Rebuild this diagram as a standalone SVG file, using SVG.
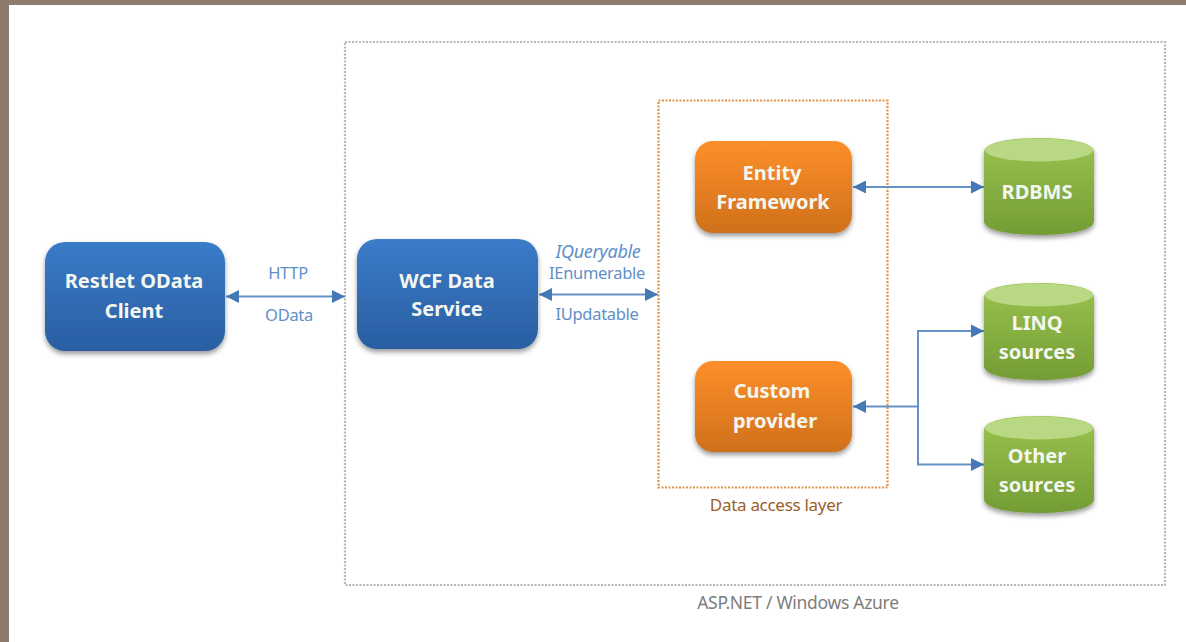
<svg xmlns="http://www.w3.org/2000/svg" width="1186" height="642" viewBox="0 0 1186 642">
<style>
text{font-family:"Noto Sans","Open Sans","DejaVu Sans",sans-serif;text-anchor:middle}
.n{font-size:20px;font-weight:700;fill:#f4f7f0}
.l{font-size:16.5px;fill:#5f8fc8;letter-spacing:-.3px}
.c{fill:none;stroke:#6492c6;stroke-width:2}
.side{filter:url(#sh)}
</style>
<defs>
<linearGradient id="b" x1="0" y1="0" x2="0" y2="1"><stop offset="0" stop-color="#3a7cc8"/><stop offset="1" stop-color="#2a5ea2"/></linearGradient>
<linearGradient id="o" x1="0" y1="0" x2="0" y2="1"><stop offset="0" stop-color="#fd8f2a"/><stop offset="1" stop-color="#d0701c"/></linearGradient>
<linearGradient id="g" x1="0" y1="0" x2="0" y2="1"><stop offset="0" stop-color="#9bc34f"/><stop offset="1" stop-color="#739c35"/></linearGradient>
<filter id="sh" x="-10%" y="-10%" width="120%" height="125%"><feDropShadow dx="0" dy="3" stdDeviation="2.5" flood-color="#000" flood-opacity=".4"/></filter>
<marker id="ae" viewBox="0 0 12 12" refX="12" refY="6" markerWidth="13" markerHeight="13" markerUnits="userSpaceOnUse" orient="auto"><path d="M0 0L12 6L0 12z" fill="#4479b6"/></marker>
<marker id="as" viewBox="0 0 12 12" refX="0" refY="6" markerWidth="13" markerHeight="13" markerUnits="userSpaceOnUse" orient="auto"><path d="M12 0L0 6L12 12z" fill="#4479b6"/></marker>
<path id="cyl" d="M0 14C0 5 24 0 55 0S110 5 110 14V83C110 92 86 97 55 97S0 92 0 83Z"/>
</defs>
<rect width="1186" height="642" fill="#fff"/>
<path d="M0 0H1186V5H9V642H0Z" fill="#8c7b6f"/>
<g id="frames" fill="none" stroke-width="2.200" stroke-dasharray="2 1.500">
<rect id="azure" x="345" y="42" width="820" height="543" stroke="#b8b8b8"/>
<rect id="dal" x="658.500" y="100.500" width="229" height="387" stroke="#e0914a"/>
</g>
<g id="connectors">
<path class="c" d="M226 296.500H345" marker-start="url(#as)" marker-end="url(#ae)"/>
<path class="c" d="M539 294.500H658" marker-start="url(#as)" marker-end="url(#ae)"/>
<path class="c" d="M853 187H984" marker-start="url(#as)" marker-end="url(#ae)"/>
<path class="c" d="M853 406.500H918" marker-start="url(#as)"/>
<path class="c" d="M984 331H918V464.500H984" marker-end="url(#ae)"/>
<path d="M971 324.500L984 331L971 337.500z" fill="#4479b6"/>
</g>
<g id="restlet"><rect class="side" x="45" y="242" width="180" height="109" rx="20" fill="url(#b)"/><text class="n" x="134" y="288">Restlet OData</text><text class="n" x="134" y="318">Client</text></g>
<g id="wcf"><rect class="side" x="357" y="239" width="181" height="110" rx="20" fill="url(#b)"/><text class="n" x="447" y="288">WCF Data</text><text class="n" x="447" y="316">Service</text></g>
<g id="entity"><rect class="side" x="695" y="141" width="157" height="92" rx="18" fill="url(#o)"/><text class="n" x="772" y="180">Entity</text><text class="n" x="773" y="209">Framework</text></g>
<g id="custom"><rect class="side" x="695" y="361" width="157" height="91" rx="18" fill="url(#o)"/><text class="n" x="772" y="398">Custom</text><text class="n" x="775" y="428">provider</text></g>
<g id="rdbms"><use href="#cyl" x="984" y="138" class="side" fill="url(#g)"/><ellipse cx="1039" cy="150" rx="54" ry="11.500" fill="#b9d883"/><text class="n" x="1037" y="199">RDBMS</text></g>
<g id="linq"><use href="#cyl" x="984" y="283" class="side" fill="url(#g)"/><ellipse cx="1039" cy="295" rx="54" ry="11.500" fill="#b9d883"/><text class="n" x="1037" y="330">LINQ</text><text class="n" x="1037" y="359">sources</text></g>
<g id="other"><use href="#cyl" x="984" y="416" class="side" fill="url(#g)"/><ellipse cx="1039" cy="428" rx="54" ry="11.500" fill="#b9d883"/><text class="n" x="1037" y="463">Other</text><text class="n" x="1037" y="492">sources</text></g>
<g id="labels">
<text class="l" x="288" y="279">HTTP</text>
<text class="l" x="289" y="321">OData</text>
<text class="l" x="598" y="258" style="font-size:18px" font-style="italic">IQueryable</text>
<text class="l" x="597" y="279">IEnumerable</text>
<text class="l" x="597" y="320">IUpdatable</text>
<text x="776" y="511" style="font-size:17px;letter-spacing:-.3px;fill:#9a5f2a">Data access layer</text>
<text x="798" y="609" style="font-size:17.500px;letter-spacing:-.3px;fill:#7d7d7d">ASP.NET / Windows Azure</text>
</g>
</svg>
